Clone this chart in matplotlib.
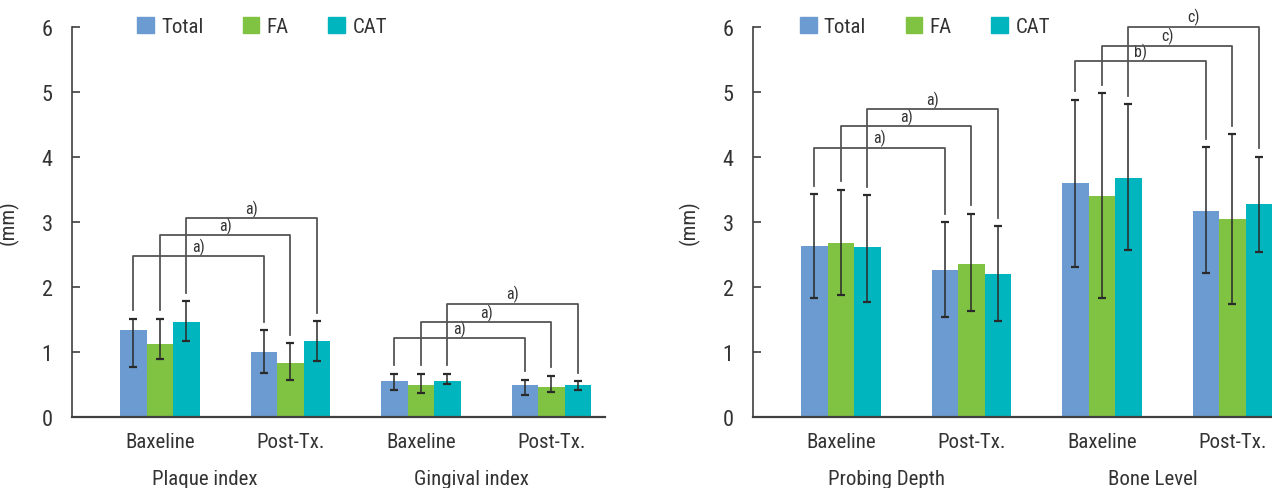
import numpy as np
import matplotlib.pyplot as plt
from matplotlib.patches import Patch

plt.rcParams['font.family'] = ['Roboto Condensed', 'DejaVu Sans']

series = ['Total', 'FA', 'CAT']
colors = ['#6b9bd1', '#80c241', '#00b5bd']
categories = ['Baxeline', 'Post-Tx.', 'Baxeline', 'Post-Tx.']

# left chart: plaque index / gingival index  (rows = Total, FA, CAT)
left_groups = ['Plaque index', 'Gingival index']
left_means = [[1.33, 0.99, 0.55, 0.49],
              [1.12, 0.83, 0.49, 0.46],
              [1.46, 1.16, 0.55, 0.49]]
left_hi = [[1.51, 1.33, 0.66, 0.57],
           [1.51, 1.13, 0.66, 0.63],
           [1.78, 1.47, 0.66, 0.55]]
left_lo = [[0.76, 0.67, 0.41, 0.33],
           [0.89, 0.56, 0.37, 0.38],
           [1.17, 0.85, 0.50, 0.41]]
left_bracket_h = [[2.47, 2.79, 3.06], [1.21, 1.45, 1.74]]
left_bracket_lab = [['a)', 'a)', 'a)'], ['a)', 'a)', 'a)']]

# right chart: probing depth / bone level
right_groups = ['Probing Depth', 'Bone Level']
right_means = [[2.63, 2.26, 3.59, 3.16],
               [2.68, 2.35, 3.39, 3.04],
               [2.61, 2.19, 3.68, 3.27]]
right_hi = [[3.42, 2.99, 4.88, 4.15],
            [3.49, 3.12, 4.98, 4.35],
            [3.41, 2.93, 4.81, 4.00]]
right_lo = [[1.83, 1.54, 2.31, 2.21],
            [1.87, 1.62, 1.83, 1.74],
            [1.77, 1.47, 2.56, 2.54]]
right_bracket_h = [[4.14, 4.47, 4.73], [5.47, 5.71, 6.00]]
right_bracket_lab = [['a)', 'a)', 'a)'], ['b)', 'c)', 'c)']]

text_col = '#333333'
w = 0.203
offsets = [-w, 0, w]


def draw_panel(ax, means, lo, hi, groups, bracket_h, bracket_lab, legend_x):
    x = np.arange(len(categories))
    for s in range(3):
        m = np.array(means[s])
        ax.bar(x + offsets[s], m, width=w, color=colors[s], label=series[s], zorder=2)
        yerr = [m - np.array(lo[s]), np.array(hi[s]) - m]
        ax.errorbar(x + offsets[s], m, yerr=yerr, fmt='none', ecolor='#2a2a2a',
                    elinewidth=1.1, capsize=2.6, capthick=1.6, zorder=3)

    # significance brackets
    for g in range(2):
        for s in range(3):
            x1 = 2 * g + offsets[s]
            x2 = 2 * g + 1 + offsets[s]
            h = bracket_h[g][s]
            b1 = hi[s][2 * g] + 0.13
            b2 = hi[s][2 * g + 1] + 0.13
            ax.plot([x1, x1, x2, x2], [b1, h, h, b2], color='#555555', lw=1.3,
                    clip_on=False, zorder=4)
            ax.text((x1 + x2) / 2, h + 0.02, bracket_lab[g][s], ha='center', va='bottom',
                    fontsize=11.5, color=text_col, clip_on=False)

    ax.set_xlim(-0.674, 3.41)
    ax.set_ylim(0, 6)
    ax.set_yticks(range(7))
    ax.set_xticks(x)
    ax.set_xticklabels(categories)
    ax.tick_params(axis='x', length=0, pad=11, labelsize=15, labelcolor=text_col)
    ax.tick_params(axis='y', direction='in', length=6, width=1.2, color='#404040',
                   pad=14, labelsize=16, labelcolor=text_col)
    for sp in ['top', 'right']:
        ax.spines[sp].set_visible(False)
    ax.spines['left'].set_color('#404040')
    ax.spines['left'].set_linewidth(1.2)
    ax.spines['bottom'].set_color('#404040')
    ax.spines['bottom'].set_linewidth(1.6)
    ax.spines['bottom'].set_zorder(5)

    ax.set_ylabel('(mm)', fontsize=15, color=text_col)
    ax.yaxis.set_label_coords(-0.1, 0.5)

    ax.text(0.25, -0.135, groups[0], transform=ax.transAxes, ha='center', va='top',
            fontsize=15, color=text_col)
    ax.text(0.75, -0.135, groups[1], transform=ax.transAxes, ha='center', va='top',
            fontsize=15, color=text_col)

    handles = [Patch(color=colors[i], label=series[i]) for i in range(3)]
    ax.legend(handles=handles, ncol=3, loc='center left', bbox_to_anchor=(legend_x, 1.0),
              frameon=False, handlelength=0.8, handleheight=0.8, handletextpad=0.35,
              columnspacing=1.9, borderpad=0, borderaxespad=0, fontsize=15,
              labelcolor=text_col)


fig = plt.figure(figsize=(12.72, 4.89), dpi=100)
ax1 = fig.add_axes([72 / 1272, 71.3 / 489, 533 / 1272, 390 / 489])
ax2 = fig.add_axes([753 / 1272, 71.3 / 489, 533 / 1272, 390 / 489])

draw_panel(ax1, left_means, left_lo, left_hi, left_groups, left_bracket_h, left_bracket_lab, 0.122)
draw_panel(ax2, right_means, right_lo, right_hi, right_groups, right_bracket_h, right_bracket_lab, 0.088)

fig.savefig('out.png', dpi=100)
